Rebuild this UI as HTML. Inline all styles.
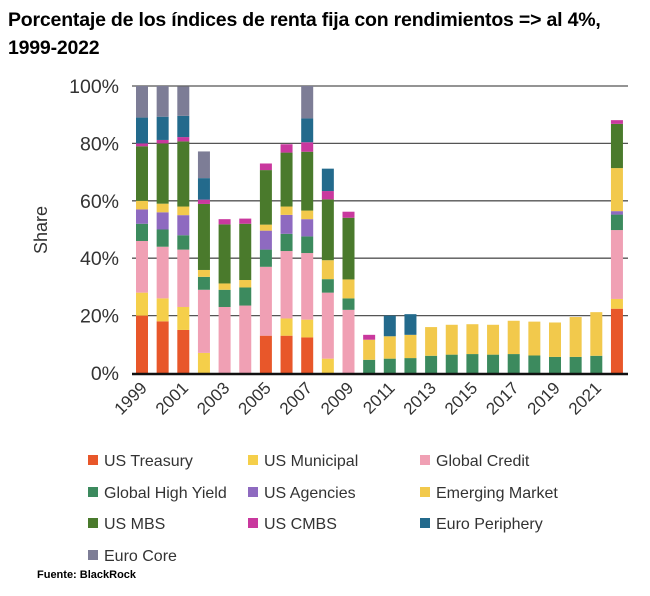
<!DOCTYPE html>
<html><head><meta charset="utf-8"><style>
body{margin:0;background:#fff;width:650px;height:596px;overflow:hidden;font-family:"Liberation Sans",sans-serif}
#title{position:absolute;left:8px;top:6px;font-weight:bold;font-size:19.5px;line-height:28px;color:#000;letter-spacing:-0.2px}
#src{position:absolute;left:37px;top:569px;font-weight:bold;font-size:11px}
svg{position:absolute;left:0;top:0}
</style></head><body>
<div id="title">Porcentaje de los índices de renta fija con rendimientos =&gt; al 4%,<br>1999-2022</div>
<svg id="chart" width="650" height="596"></svg>
<div id="src">Fuente: BlackRock</div>
<script>
const years=[1999,2000,2001,2002,2003,2004,2005,2006,2007,2008,2009,2010,2011,2012,2013,2014,2015,2016,2017,2018,2019,2020,2021,2022];
const seriesNames=["US Treasury","US Municipal","Global Credit","Global High Yield","US Agencies","Emerging Market","US MBS","US CMBS","Euro Periphery","Euro Core"];
const colors=["#e8572a","#f5cf4a","#f0a0b4","#3c8a5e","#8e6ac0","#f2c94c","#4a7a2c","#c9389e","#236a8c","#7d7d96"];
const usTreasury=[20,18,15,0,0,0,13,13,12.4,0,0,0,0,0,0,0,0,0,0,0,0,0,0,22.4];
const usMunicipal=[8,8,8,7,0,0,0,6,6.2,5,0,0,0,0,0,0,0,0,0,0,0,0,0,3.4];
const globalCredit=[18,18,20,22,23,23.5,24,23.5,23.2,23,22,0,0,0,0,0,0,0,0,0,0,0,0,24];
const globalHighYield=[6,6,5,4.5,6,6.3,6,6,5.8,4.7,4,4.6,5,5.2,6,6.4,6.6,6.4,6.6,6.1,5.6,5.6,6,5.4];
const usAgencies=[5,6,7,0,0,0,6.6,6.6,6,0,0,0,0,0,0,0,0,0,0,0,0,0,0,1.2];
const emergingMarket=[3,3,3,2.4,2.2,2.6,2.1,2.9,3,6.6,6.6,7,7.8,8.1,10,10.4,10.4,10.4,11.6,11.8,12,13.9,15.2,15];
const usMBS=[19,21,22.7,23,20.6,19.6,19,18.8,20.5,21.2,21.5,0,0,0,0,0,0,0,0,0,0,0,0,15.4];
const usCMBS=[1,1.2,1.5,1.5,1.8,1.8,2.3,2.9,3.3,2.9,2.1,1.7,0,0,0,0,0,0,0,0,0,0,0,1.3];
const euroPeriphery=[9,8.1,7.4,7.5,0,0,0,0,8.3,7.8,0,0,7.2,7.2,0,0,0,0,0,0,0,0,0,0];
const euroCore=[11,10.7,10.2,9.3,0,0,0,0,11.3,0,0,0,0,0,0,0,0,0,0,0,0,0,0,0];
const series=[usTreasury,usMunicipal,globalCredit,globalHighYield,usAgencies,emergingMarket,usMBS,usCMBS,euroPeriphery,euroCore];
const yTicks=[0,20,40,60,80,100];
const NS="http://www.w3.org/2000/svg";
const svg=document.getElementById('chart');
const x0=142,dx=20.65,bw=12,yTop=86,yBot=373;
const xS=i=>x0+i*dx;
const yS=v=>yBot-(v/100)*(yBot-yTop);
function mk(t,a){const e=document.createElementNS(NS,t);for(const k in a)e.setAttribute(k,a[k]);svg.appendChild(e);return e;}
yTicks.forEach(t=>{
 if(t>0){const l=mk('line',{x1:132,x2:628,y1:yS(t),y2:yS(t),stroke:'#555','stroke-width':1.3});
 
 }
 const tx=mk('text',{x:119,y:yS(t)+7,'text-anchor':'end','font-size':19.5,fill:'#333','font-family':'Liberation Sans'});
 tx.textContent=t+'%';
 
 
});
const yt=mk('text',{transform:'translate(47,230) rotate(-90)','text-anchor':'middle','font-size':18,fill:'#333','font-family':'Liberation Sans'});
yt.textContent='Share';


years.forEach((yr,i)=>{
 let acc=0;
 series.forEach((s,k)=>{const v=s[i];if(v>0){
  const r=mk('rect',{x:xS(i)-bw/2,y:yS(acc+v),width:bw,height:yS(acc)-yS(acc+v),fill:colors[k]});
  
  
  acc+=v;}});
 if(yr%2===1){
  const t=mk('text',{transform:`translate(${xS(i)+6},${389}) rotate(-45)`,'text-anchor':'end','font-size':17,fill:'#333','font-family':'Liberation Sans'});
  t.textContent=yr;
  
  
 }
});
const ax=mk('line',{x1:132,x2:628,y1:yBot+1,y2:yBot+1,stroke:'#111','stroke-width':2.5});


const lx=[88,248,420],ly=[460,492,523,555];
seriesNames.forEach((n,k)=>{
 const cx=lx[k%3],cy=ly[Math.floor(k/3)];
 const r=mk('rect',{x:cx,y:cy-5,width:10,height:10,fill:colors[k]});
 
 
 const t=mk('text',{x:cx+16,y:cy+6,'font-size':16,fill:'#333','font-family':'Liberation Sans'});
 t.textContent=n;
 
 
});
</script>
</body></html>
